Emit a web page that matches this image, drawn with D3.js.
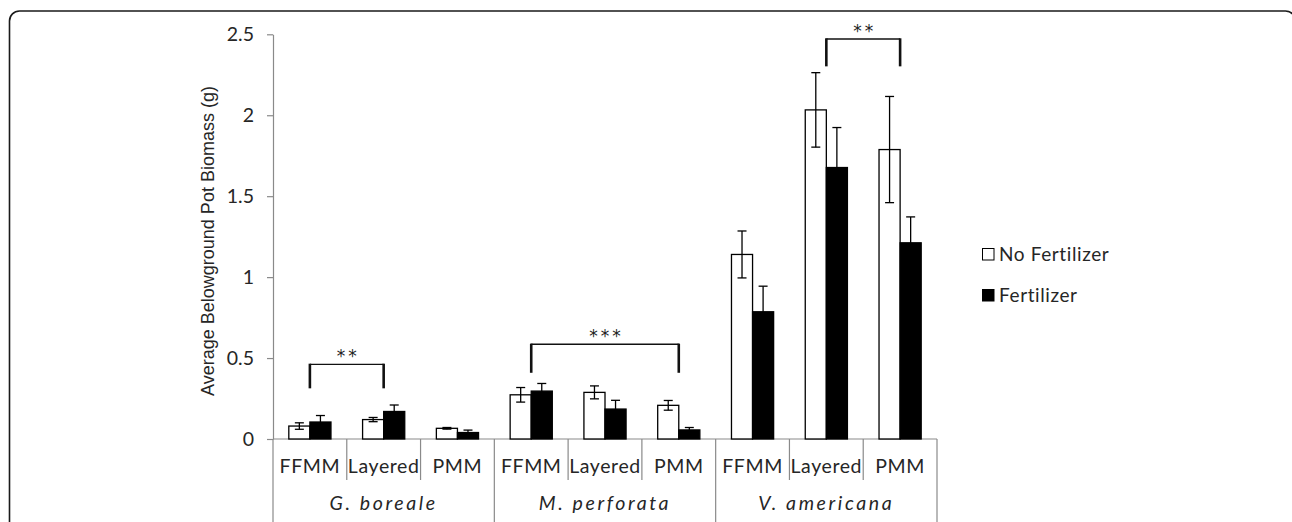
<!DOCTYPE html>
<html>
<head>
<meta charset="utf-8">
<script src="https://cdn.jsdelivr.net/npm/d3@7"></script>
<style>
  body { margin: 0; background: #fff; }
  svg { display: block; font-family: Lato, "Open Sans", sans-serif; }
</style>
</head>
<body>
<div id="chart"></div>
<script>
// data
const species = ['G. boreale', 'M. perforata', 'V. americana'];
const methods = ['FFMM', 'Layered', 'PMM'];
const seriesNames = ['No Fertilizer', 'Fertilizer'];
const noFert    = [0.080, 0.120, 0.066, 0.273, 0.288, 0.208, 1.140, 2.033, 1.788];
const noFertErr = [0.020, 0.013, 0.005, 0.045, 0.040, 0.030, 0.145, 0.230, 0.328];
const fert      = [0.105, 0.170, 0.040, 0.296, 0.185, 0.056, 0.786, 1.677, 1.212];
const fertErr   = [0.040, 0.040, 0.015, 0.047, 0.054, 0.015, 0.158, 0.247, 0.160];
const yTicks = [0, 0.5, 1, 1.5, 2, 2.5];
// significance brackets: category index from/to, top and bottom of the bracket (y units)
const brackets = [
  { from: 0, to: 1, top: 0.461, bottom: 0.313, label: '**' },
  { from: 3, to: 5, top: 0.585, bottom: 0.409, label: '***' },
  { from: 7, to: 8, top: 2.471, bottom: 2.302, label: '**' }
];

const W = 1292, H = 522;
const plotLeft = 273, plotRight = 937, plotBase = 439, plotTop = 34.3;
const textCol = '#262626', axisCol = '#8a8a8a';

const svg = d3.select('#chart').append('svg')
  .attr('width', W)
  .attr('height', H);

// rounded frame around the figure
svg.append('rect')
  .attr('x', 9.5).attr('y', 11)
  .attr('width', 1286).attr('height', 600)
  .attr('rx', 10)
  .attr('fill', 'none')
  .attr('stroke', '#1a1a1a')
  .attr('stroke-width', 1.6);

const y = d3.scaleLinear().domain([0, 2.5]).range([plotBase, plotTop]);
const x = d3.scaleBand().domain(d3.range(species.length * methods.length)).range([plotLeft, plotRight]);
const xs = d3.scaleBand().domain(species).range([plotLeft, plotRight]);
const sub = d3.scaleBand().domain(seriesNames).range([0, x.bandwidth()]).paddingOuter(0.75);

// y axis
const yAxis = svg.append('g')
  .attr('transform', `translate(${plotLeft},0)`)
  .call(d3.axisLeft(y).tickValues(yTicks).tickSize(6).tickSizeOuter(0).tickPadding(13).tickFormat(d3.format('~g')));
yAxis.select('.domain').attr('stroke', axisCol).attr('stroke-width', 1.2);
yAxis.selectAll('.tick line').attr('stroke', axisCol).attr('stroke-width', 1.2);
yAxis.selectAll('.tick text').attr('fill', textCol).attr('font-size', 19.5).attr('font-family', 'Lato, sans-serif');

svg.append('text')
  .attr('transform', `translate(214,241) rotate(-90)`)
  .attr('text-anchor', 'middle')
  .attr('font-family', '"Liberation Sans", Arial, sans-serif')
  .attr('font-size', 18)
  .attr('fill', textCol)
  .text('Average Belowground Pot Biomass (g)');

// x axis: baseline plus two-level category table
const xAxis = svg.append('g');
xAxis.append('line')
  .attr('x1', plotLeft).attr('x2', plotRight)
  .attr('y1', plotBase).attr('y2', plotBase)
  .attr('stroke', axisCol).attr('stroke-width', 1.2);

const bounds = d3.range(x.domain().length + 1).map(i => plotLeft + i * x.step());
xAxis.selectAll('line.sep')
  .data(bounds)
  .enter().append('line')
  .attr('class', 'sep')
  .attr('x1', d => d).attr('x2', d => d)
  .attr('y1', plotBase)
  .attr('y2', (d, i) => i % methods.length === 0 ? H : 480)
  .attr('stroke', axisCol).attr('stroke-width', 1.2);

xAxis.selectAll('text.method')
  .data(x.domain())
  .enter().append('text')
  .attr('class', 'method')
  .attr('x', d => x(d) + x.bandwidth() / 2)
  .attr('y', 473)
  .attr('text-anchor', 'middle')
  .attr('font-size', 19.5)
  .attr('letter-spacing', 0.6)
  .attr('fill', textCol)
  .text(d => methods[d % methods.length]);

xAxis.selectAll('text.species')
  .data(species)
  .enter().append('text')
  .attr('class', 'species')
  .attr('x', d => xs(d) + xs.bandwidth() / 2)
  .attr('y', 510)
  .attr('text-anchor', 'middle')
  .attr('font-size', 19.5)
  .attr('font-style', 'italic')
  .attr('letter-spacing', 2.6)
  .attr('fill', textCol)
  .text(d => d);

// bars
const rows = x.domain().flatMap(i => [
  { i, s: seriesNames[0], v: noFert[i], e: noFertErr[i] },
  { i, s: seriesNames[1], v: fert[i], e: fertErr[i] }
]);

const bars = svg.append('g');
bars.selectAll('rect')
  .data(rows)
  .enter().append('rect')
  .attr('x', d => x(d.i) + sub(d.s))
  .attr('y', d => y(d.v))
  .attr('width', sub.bandwidth())
  .attr('height', d => y(0) - y(d.v))
  .attr('fill', d => d.s === seriesNames[0] ? '#fff' : '#000')
  .attr('stroke', '#000')
  .attr('stroke-width', 1.3);

// error bars
const cap = 4.5;
const err = svg.append('g').attr('stroke', '#000').attr('stroke-width', 1.3);
rows.forEach(d => {
  const cx = x(d.i) + sub(d.s) + sub.bandwidth() / 2;
  err.append('line').attr('x1', cx).attr('x2', cx).attr('y1', y(d.v + d.e)).attr('y2', y(d.v - d.e));
  err.append('line').attr('x1', cx - cap).attr('x2', cx + cap).attr('y1', y(d.v + d.e)).attr('y2', y(d.v + d.e));
  err.append('line').attr('x1', cx - cap).attr('x2', cx + cap).attr('y1', y(d.v - d.e)).attr('y2', y(d.v - d.e));
});

// significance brackets
const sig = svg.append('g');
brackets.forEach(b => {
  const x1 = x(b.from) + x.bandwidth() / 2;
  const x2 = x(b.to) + x.bandwidth() / 2;
  sig.append('line').attr('x1', x1).attr('x2', x2).attr('y1', y(b.top)).attr('y2', y(b.top))
    .attr('stroke', '#111').attr('stroke-width', 1.4);
  [x1, x2].forEach(xx => {
    sig.append('line').attr('x1', xx).attr('x2', xx).attr('y1', y(b.top) - 0.7).attr('y2', y(b.bottom))
      .attr('stroke', '#111').attr('stroke-width', 2.6);
  });
  sig.append('text')
    .attr('x', (x1 + x2) / 2 + 1.5)
    .attr('y', y(b.top) - 2)
    .attr('text-anchor', 'middle')
    .attr('font-family', '"DejaVu Sans", sans-serif')
    .attr('font-size', 17)
    .attr('letter-spacing', 3)
    .attr('fill', '#222')
    .text(b.label);
});

// legend
const legend = svg.append('g').attr('transform', 'translate(982,248)');
const li = legend.selectAll('g')
  .data(seriesNames)
  .enter().append('g')
  .attr('transform', (d, i) => `translate(0,${i * 41})`);
li.append('rect')
  .attr('x', 0.5).attr('y', 0.5)
  .attr('width', 11.5).attr('height', 11.5)
  .attr('fill', (d, i) => i === 0 ? '#fff' : '#000')
  .attr('stroke', '#000').attr('stroke-width', 1);
li.append('text')
  .attr('x', 17)
  .attr('y', 13)
  .attr('font-size', 19)
  .attr('letter-spacing', 0.6)
  .attr('fill', textCol)
  .text(d => d);
</script>
</body>
</html>
